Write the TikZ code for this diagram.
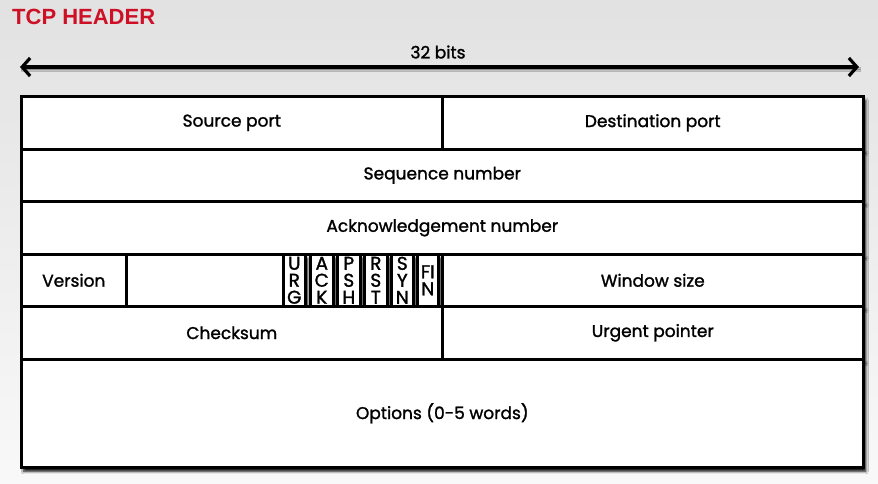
\documentclass[tikz,border=0pt]{standalone}
\usepackage{fontspec}
\setmainfont{Poppins}[FakeBold=1.4]
\newfontfamily\titlefont{Liberation Sans}[BoldFont=* Bold]
\usetikzlibrary{arrows.meta,shadows.blur}
\definecolor{titlered}{RGB}{205,16,38}
\definecolor{bgtop}{gray}{0.885}
\definecolor{bgbot}{gray}{0.975}
\tikzset{
  cellbox/.style={draw=black, line width=2.6pt, fill=white, inner sep=0pt,
    anchor=north west, font=\fontsize{17}{19}\selectfont,
    blur shadow={shadow xshift=2.5pt, shadow yshift=-4pt, shadow blur radius=2.5pt, shadow blur steps=6, shadow opacity=100}},
  flagbox/.style={cellbox, align=center, font=\fontsize{18.5}{17}\selectfont},
  bitarrow/.style={line width=3.6pt, {Straight Barb[length=8pt,width=18pt,line width=3.2pt]}-{Straight Barb[length=8pt,width=18pt,line width=3.2pt]},
    blur shadow={shadow xshift=1.5pt, shadow yshift=-2.5pt, shadow blur steps=5, shadow opacity=70}},
  labeltext/.style={font=\fontsize{17}{19}\selectfont}
}
\begin{document}
\begin{tikzpicture}[x=1pt,y=-1pt]
  % page and its soft grey gradient
  \shade[top color=bgtop, bottom color=bgbot] (0,0) rectangle (878,483);
  \useasboundingbox (0,0) rectangle (878,483);

  % heading
  \node[anchor=west, inner sep=0pt, text=titlered, font=\titlefont\bfseries\fontsize{22}{24}\selectfont] (title) at (12,17) {TCP HEADER};

  % width indicator
  \coordinate (la) at (20,67);
  \coordinate (ra) at (859,67);
  \draw[bitarrow] (la) -- (ra);
  \node[labeltext] (bits) at (438,52) {32 bits};

  % row 1
  \node[cellbox, minimum width=421pt, minimum height=53pt] (src) at (20,95) {Source port};
  \node[cellbox, minimum width=421pt, minimum height=53pt] (dst) at (441,95) {Destination port};
  % row 2
  \node[cellbox, minimum width=842pt, minimum height=52pt] (seq) at (20,148) {Sequence number};
  % row 3
  \node[cellbox, minimum width=842pt, minimum height=53pt] (ack) at (20,200) {Acknowledgement number};
  % row 4
  \node[cellbox, minimum width=105pt, minimum height=52pt] (ver) at (20,253) {Version};
  \node[cellbox, minimum width=316pt, minimum height=52pt] (res) at (125,253) {};
  \node[cellbox, minimum width=421pt, minimum height=52pt] (win) at (441,253) {Window size};
  % control flags
  \node[flagbox, minimum width=22pt, minimum height=52pt] (furg) at (282,253) {U\\R\\G};
  \node[flagbox, minimum width=23pt, minimum height=52pt] (fack) at (309,253) {A\\C\\K};
  \node[flagbox, minimum width=23pt, minimum height=52pt] (fpsh) at (336,253) {P\\S\\H};
  \node[flagbox, minimum width=23pt, minimum height=52pt] (frst) at (363,253) {R\\S\\T};
  \node[flagbox, minimum width=22pt, minimum height=52pt] (fsyn) at (390,253) {S\\Y\\N};
  \node[flagbox, minimum width=21pt, minimum height=52pt] (ffin) at (416,253) {FI\\N};
  % row 5
  \node[cellbox, minimum width=421pt, minimum height=53pt] (chk) at (20,305) {Checksum};
  \node[cellbox, minimum width=421pt, minimum height=53pt] (urg) at (441,305) {Urgent pointer};
  % row 6
  \node[cellbox, minimum width=842pt, minimum height=108pt] (opt) at (20,358) {Options (0-5 words)};
\end{tikzpicture}
\end{document}
